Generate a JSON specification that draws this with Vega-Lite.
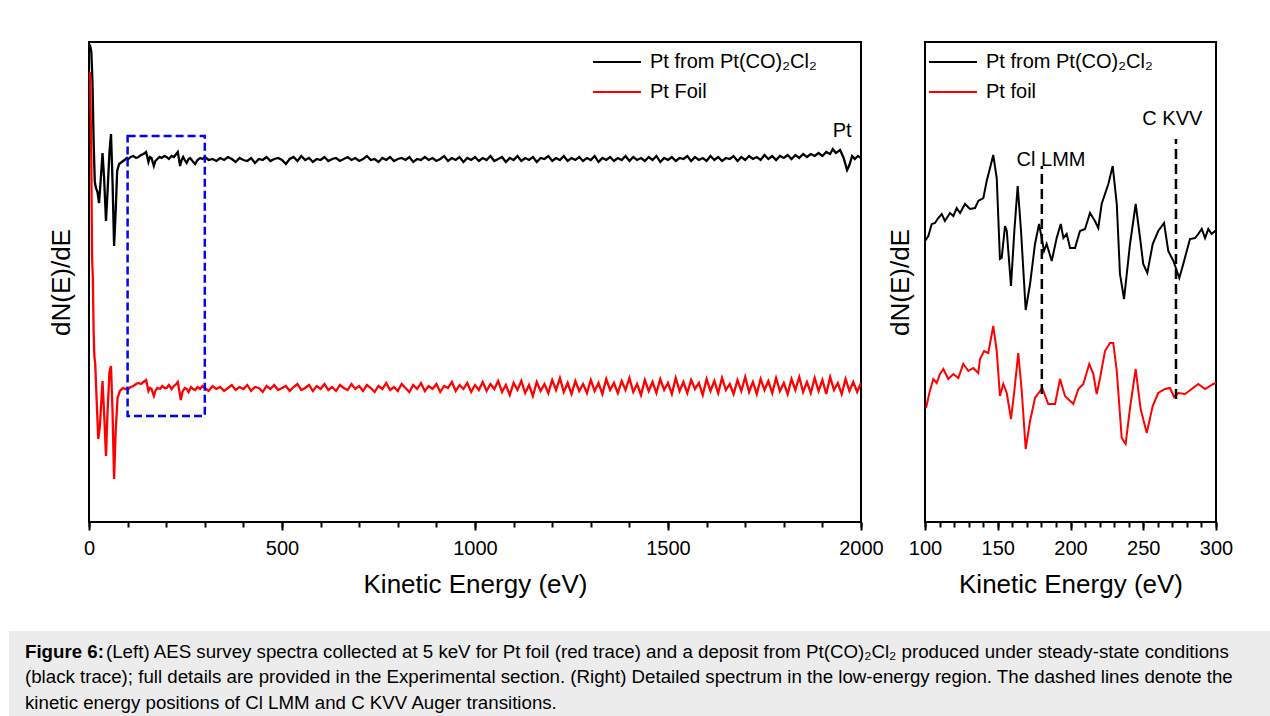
{
  "$schema": "https://vega.github.io/schema/vega-lite/v6.json",
  "padding": {"left": 9, "top": 41, "right": 0, "bottom": 0},
  "background": "white",
  "config": {
    "font": "Liberation Sans",
    "view": {"stroke": "black", "strokeWidth": 2},
    "axis": {"labelFontSize": 20, "titleFontSize": 26, "titleFontWeight": "normal", "labelColor": "black", "titleColor": "black", "tickColor": "black", "tickWidth": 2, "grid": false, "domain": false, "labelFlush": false, "format": "d"},
    "legend": {"orient": "none", "title": null, "symbolType": "M-1,0H3.8", "symbolSize": 400, "symbolStrokeWidth": 2, "labelFontSize": 20, "labelColor": "black", "labelOffset": 36, "rowPadding": 9, "labelLimit": 400, "padding": 0},
    "text": {"fontSize": 20, "color": "black"}
  },
  "spacing": 33,
  "vconcat": [
    {
      "hconcat": [
        {
          "width": 16,
          "height": 480,
          "view": {"stroke": null},
          "data": {"values": []},
          "mark": "point"
        },
        {
          "width": 772,
          "height": 480,
          "resolve": {"axis": {"x": "independent"}},
          "layer": [
            {
              "data": {"values": [
                {"s":"dep","eV":0,"y":478},{"s":"dep","eV":3,"y":476},{"s":"dep","eV":6,"y":470},{"s":"dep","eV":9,"y":440},{"s":"dep","eV":12,"y":380},{"s":"dep","eV":15,"y":340},{"s":"dep","eV":18,"y":334},{"s":"dep","eV":22,"y":330},{"s":"dep","eV":26,"y":319},{"s":"dep","eV":30,"y":340},{"s":"dep","eV":35,"y":369},{"s":"dep","eV":39,"y":345},{"s":"dep","eV":44,"y":301},{"s":"dep","eV":48,"y":330},{"s":"dep","eV":53,"y":370},{"s":"dep","eV":57,"y":388},{"s":"dep","eV":61,"y":340},{"s":"dep","eV":65,"y":276},{"s":"dep","eV":69,"y":310},{"s":"dep","eV":73,"y":351},{"s":"dep","eV":78,"y":358},{"s":"dep","eV":85,"y":360},{"s":"dep","eV":92,"y":362},{"s":"dep","eV":98,"y":364},{"s":"dep","eV":102,"y":363},{"s":"dep","eV":108,"y":365},{"s":"dep","eV":115,"y":366},{"s":"dep","eV":122,"y":364},{"s":"dep","eV":128,"y":365},{"s":"dep","eV":135,"y":367},{"s":"dep","eV":141,"y":368},{"s":"dep","eV":148,"y":370},{"s":"dep","eV":154,"y":360},{"s":"dep","eV":158,"y":365},{"s":"dep","eV":162,"y":364},{"s":"dep","eV":168,"y":356},{"s":"dep","eV":172,"y":361},{"s":"dep","eV":177,"y":363},{"s":"dep","eV":183,"y":365},{"s":"dep","eV":188,"y":364},{"s":"dep","eV":195,"y":366},{"s":"dep","eV":201,"y":365},{"s":"dep","eV":207,"y":363},{"s":"dep","eV":214,"y":366},{"s":"dep","eV":220,"y":365},{"s":"dep","eV":226,"y":368},{"s":"dep","eV":230,"y":370},{"s":"dep","eV":236,"y":356},{"s":"dep","eV":240,"y":362},{"s":"dep","eV":244,"y":365},{"s":"dep","eV":248,"y":362},{"s":"dep","eV":253,"y":359},{"s":"dep","eV":258,"y":363},{"s":"dep","eV":262,"y":364},{"s":"dep","eV":268,"y":361},{"s":"dep","eV":275,"y":358},{"s":"dep","eV":281,"y":362},{"s":"dep","eV":288,"y":364},{"s":"dep","eV":294,"y":363},{"s":"dep","eV":300,"y":365},
                {"s":"dep","eV":310,"y":362},{"s":"dep","eV":320,"y":363},{"s":"dep","eV":330,"y":361},{"s":"dep","eV":340,"y":364},{"s":"dep","eV":350,"y":362},{"s":"dep","eV":360,"y":365},{"s":"dep","eV":370,"y":363},{"s":"dep","eV":380,"y":360},{"s":"dep","eV":390,"y":364},{"s":"dep","eV":400,"y":362},{"s":"dep","eV":410,"y":361},{"s":"dep","eV":420,"y":364},{"s":"dep","eV":430,"y":359},{"s":"dep","eV":440,"y":363},{"s":"dep","eV":450,"y":362},{"s":"dep","eV":460,"y":365},{"s":"dep","eV":470,"y":361},{"s":"dep","eV":480,"y":363},{"s":"dep","eV":490,"y":364},{"s":"dep","eV":500,"y":362},{"s":"dep","eV":510,"y":358},{"s":"dep","eV":520,"y":363},{"s":"dep","eV":530,"y":365},{"s":"dep","eV":540,"y":361},{"s":"dep","eV":550,"y":366},{"s":"dep","eV":560,"y":362},{"s":"dep","eV":570,"y":364},{"s":"dep","eV":580,"y":360},{"s":"dep","eV":590,"y":363},{"s":"dep","eV":600,"y":362},{"s":"dep","eV":610,"y":365},{"s":"dep","eV":620,"y":361},{"s":"dep","eV":630,"y":363},{"s":"dep","eV":640,"y":364},{"s":"dep","eV":650,"y":361},{"s":"dep","eV":660,"y":363},{"s":"dep","eV":670,"y":365},{"s":"dep","eV":680,"y":362},{"s":"dep","eV":690,"y":364},{"s":"dep","eV":700,"y":361},{"s":"dep","eV":710,"y":363},{"s":"dep","eV":720,"y":366},{"s":"dep","eV":730,"y":362},{"s":"dep","eV":740,"y":363},{"s":"dep","eV":750,"y":360},{"s":"dep","eV":760,"y":364},{"s":"dep","eV":770,"y":362},{"s":"dep","eV":780,"y":365},{"s":"dep","eV":790,"y":361},{"s":"dep","eV":800,"y":363},{"s":"dep","eV":810,"y":364},{"s":"dep","eV":820,"y":362},{"s":"dep","eV":830,"y":365},{"s":"dep","eV":840,"y":360},{"s":"dep","eV":850,"y":363},{"s":"dep","eV":860,"y":362},{"s":"dep","eV":870,"y":365},{"s":"dep","eV":880,"y":362},{"s":"dep","eV":890,"y":364},{"s":"dep","eV":900,"y":361},{"s":"dep","eV":910,"y":363},{"s":"dep","eV":920,"y":366},{"s":"dep","eV":930,"y":361},{"s":"dep","eV":940,"y":364},{"s":"dep","eV":950,"y":362},{"s":"dep","eV":960,"y":365},{"s":"dep","eV":970,"y":360},{"s":"dep","eV":980,"y":364},{"s":"dep","eV":990,"y":362},{"s":"dep","eV":1000,"y":365},{"s":"dep","eV":1010,"y":361},{"s":"dep","eV":1020,"y":364},{"s":"dep","eV":1030,"y":362},{"s":"dep","eV":1040,"y":366},{"s":"dep","eV":1050,"y":361},{"s":"dep","eV":1060,"y":363},{"s":"dep","eV":1070,"y":365},{"s":"dep","eV":1080,"y":360},{"s":"dep","eV":1090,"y":364},{"s":"dep","eV":1100,"y":362},{"s":"dep","eV":1110,"y":366},{"s":"dep","eV":1120,"y":361},{"s":"dep","eV":1130,"y":364},{"s":"dep","eV":1140,"y":362},{"s":"dep","eV":1150,"y":365},{"s":"dep","eV":1160,"y":360},{"s":"dep","eV":1170,"y":364},{"s":"dep","eV":1180,"y":363},{"s":"dep","eV":1190,"y":366},{"s":"dep","eV":1200,"y":361},{"s":"dep","eV":1210,"y":364},{"s":"dep","eV":1220,"y":362},{"s":"dep","eV":1230,"y":366},{"s":"dep","eV":1240,"y":361},{"s":"dep","eV":1250,"y":364},{"s":"dep","eV":1260,"y":362},{"s":"dep","eV":1270,"y":365},{"s":"dep","eV":1280,"y":361},{"s":"dep","eV":1290,"y":364},{"s":"dep","eV":1300,"y":362},{"s":"dep","eV":1310,"y":366},{"s":"dep","eV":1320,"y":360},{"s":"dep","eV":1330,"y":364},{"s":"dep","eV":1340,"y":362},{"s":"dep","eV":1350,"y":365},{"s":"dep","eV":1360,"y":361},{"s":"dep","eV":1370,"y":364},{"s":"dep","eV":1380,"y":362},{"s":"dep","eV":1390,"y":366},{"s":"dep","eV":1400,"y":361},{"s":"dep","eV":1410,"y":365},{"s":"dep","eV":1420,"y":362},{"s":"dep","eV":1430,"y":364},{"s":"dep","eV":1440,"y":361},{"s":"dep","eV":1450,"y":365},{"s":"dep","eV":1460,"y":362},{"s":"dep","eV":1470,"y":366},{"s":"dep","eV":1480,"y":360},{"s":"dep","eV":1490,"y":364},{"s":"dep","eV":1500,"y":362},{"s":"dep","eV":1510,"y":365},{"s":"dep","eV":1520,"y":361},{"s":"dep","eV":1530,"y":364},{"s":"dep","eV":1540,"y":363},{"s":"dep","eV":1550,"y":366},{"s":"dep","eV":1560,"y":361},{"s":"dep","eV":1570,"y":365},{"s":"dep","eV":1580,"y":362},{"s":"dep","eV":1590,"y":364},{"s":"dep","eV":1600,"y":361},{"s":"dep","eV":1610,"y":366},{"s":"dep","eV":1620,"y":362},{"s":"dep","eV":1630,"y":365},{"s":"dep","eV":1640,"y":361},{"s":"dep","eV":1650,"y":364},{"s":"dep","eV":1660,"y":363},{"s":"dep","eV":1670,"y":366},{"s":"dep","eV":1680,"y":361},{"s":"dep","eV":1690,"y":365},{"s":"dep","eV":1700,"y":362},{"s":"dep","eV":1710,"y":366},{"s":"dep","eV":1720,"y":363},{"s":"dep","eV":1730,"y":365},{"s":"dep","eV":1740,"y":362},{"s":"dep","eV":1750,"y":367},{"s":"dep","eV":1760,"y":363},{"s":"dep","eV":1770,"y":366},{"s":"dep","eV":1780,"y":362},{"s":"dep","eV":1790,"y":366},{"s":"dep","eV":1800,"y":364},{"s":"dep","eV":1810,"y":367},{"s":"dep","eV":1820,"y":363},{"s":"dep","eV":1830,"y":367},{"s":"dep","eV":1840,"y":364},{"s":"dep","eV":1850,"y":368},{"s":"dep","eV":1860,"y":365},{"s":"dep","eV":1870,"y":368},{"s":"dep","eV":1880,"y":366},{"s":"dep","eV":1890,"y":369},{"s":"dep","eV":1900,"y":366},{"s":"dep","eV":1910,"y":370},{"s":"dep","eV":1920,"y":368},{"s":"dep","eV":1927,"y":373},{"s":"dep","eV":1935,"y":369},{"s":"dep","eV":1946,"y":372},{"s":"dep","eV":1955,"y":364},{"s":"dep","eV":1964,"y":352},{"s":"dep","eV":1970,"y":357},{"s":"dep","eV":1977,"y":366},{"s":"dep","eV":1984,"y":363},{"s":"dep","eV":1992,"y":366},{"s":"dep","eV":2000,"y":364},
                {"s":"foil","eV":3,"y":450},{"s":"foil","eV":6,"y":360},{"s":"foil","eV":8,"y":264},{"s":"foil","eV":10,"y":244},{"s":"foil","eV":12,"y":190},{"s":"foil","eV":14,"y":165},{"s":"foil","eV":16,"y":159},{"s":"foil","eV":20,"y":120},{"s":"foil","eV":24,"y":83},{"s":"foil","eV":28,"y":95},{"s":"foil","eV":35,"y":141},{"s":"foil","eV":39,"y":110},{"s":"foil","eV":44,"y":66},{"s":"foil","eV":48,"y":110},{"s":"foil","eV":53,"y":150},{"s":"foil","eV":57,"y":156},{"s":"foil","eV":61,"y":110},{"s":"foil","eV":65,"y":43},{"s":"foil","eV":69,"y":90},{"s":"foil","eV":74,"y":124},{"s":"foil","eV":80,"y":131},{"s":"foil","eV":88,"y":134},{"s":"foil","eV":95,"y":133},{"s":"foil","eV":102,"y":133},{"s":"foil","eV":108,"y":135},{"s":"foil","eV":115,"y":136},{"s":"foil","eV":122,"y":138},{"s":"foil","eV":128,"y":139},{"s":"foil","eV":135,"y":138},{"s":"foil","eV":141,"y":140},{"s":"foil","eV":148,"y":142},{"s":"foil","eV":154,"y":131},{"s":"foil","eV":158,"y":134},{"s":"foil","eV":162,"y":133},{"s":"foil","eV":168,"y":126},{"s":"foil","eV":172,"y":131},{"s":"foil","eV":177,"y":134},{"s":"foil","eV":184,"y":133},{"s":"foil","eV":190,"y":136},{"s":"foil","eV":196,"y":134},{"s":"foil","eV":201,"y":134},{"s":"foil","eV":207,"y":137},{"s":"foil","eV":214,"y":133},{"s":"foil","eV":220,"y":136},{"s":"foil","eV":226,"y":138},{"s":"foil","eV":230,"y":140},{"s":"foil","eV":238,"y":122},{"s":"foil","eV":242,"y":130},{"s":"foil","eV":248,"y":134},{"s":"foil","eV":253,"y":133},{"s":"foil","eV":258,"y":130},{"s":"foil","eV":264,"y":135},{"s":"foil","eV":270,"y":133},{"s":"foil","eV":275,"y":132},{"s":"foil","eV":281,"y":135},{"s":"foil","eV":288,"y":133},{"s":"foil","eV":294,"y":136},{"s":"foil","eV":300,"y":134},
                {"s":"foil","eV":310,"y":131},{"s":"foil","eV":320,"y":136},{"s":"foil","eV":330,"y":133},{"s":"foil","eV":340,"y":135},{"s":"foil","eV":350,"y":131},{"s":"foil","eV":360,"y":134},{"s":"foil","eV":370,"y":137},{"s":"foil","eV":380,"y":132},{"s":"foil","eV":390,"y":135},{"s":"foil","eV":400,"y":133},{"s":"foil","eV":410,"y":137},{"s":"foil","eV":420,"y":131},{"s":"foil","eV":430,"y":135},{"s":"foil","eV":440,"y":134},{"s":"foil","eV":450,"y":130},{"s":"foil","eV":460,"y":136},{"s":"foil","eV":470,"y":133},{"s":"foil","eV":480,"y":137},{"s":"foil","eV":490,"y":132},{"s":"foil","eV":500,"y":134},{"s":"foil","eV":510,"y":136},{"s":"foil","eV":520,"y":131},{"s":"foil","eV":530,"y":135},{"s":"foil","eV":540,"y":138},{"s":"foil","eV":550,"y":132},{"s":"foil","eV":560,"y":134},{"s":"foil","eV":570,"y":137},{"s":"foil","eV":580,"y":131},{"s":"foil","eV":590,"y":136},{"s":"foil","eV":600,"y":133},{"s":"foil","eV":610,"y":138},{"s":"foil","eV":620,"y":132},{"s":"foil","eV":630,"y":135},{"s":"foil","eV":640,"y":131},{"s":"foil","eV":650,"y":137},{"s":"foil","eV":660,"y":134},{"s":"foil","eV":670,"y":132},{"s":"foil","eV":680,"y":138},{"s":"foil","eV":690,"y":133},{"s":"foil","eV":700,"y":136},{"s":"foil","eV":710,"y":131},{"s":"foil","eV":720,"y":137},{"s":"foil","eV":730,"y":134},{"s":"foil","eV":740,"y":130},{"s":"foil","eV":750,"y":136},{"s":"foil","eV":760,"y":133},{"s":"foil","eV":770,"y":139},{"s":"foil","eV":780,"y":132},{"s":"foil","eV":790,"y":135},{"s":"foil","eV":800,"y":131},{"s":"foil","eV":810,"y":138},{"s":"foil","eV":820,"y":134},{"s":"foil","eV":830,"y":130},{"s":"foil","eV":840,"y":137},{"s":"foil","eV":850,"y":133},{"s":"foil","eV":860,"y":139},{"s":"foil","eV":870,"y":131},{"s":"foil","eV":880,"y":136},{"s":"foil","eV":890,"y":133},{"s":"foil","eV":900,"y":138},{"s":"foil","eV":910,"y":130},{"s":"foil","eV":920,"y":136},{"s":"foil","eV":930,"y":134},{"s":"foil","eV":940,"y":140},{"s":"foil","eV":950,"y":131},{"s":"foil","eV":960,"y":137},{"s":"foil","eV":970,"y":133},{"s":"foil","eV":980,"y":139},{"s":"foil","eV":990,"y":130},{"s":"foil","eV":1000,"y":137},{"s":"foil","eV":1010,"y":132},{"s":"foil","eV":1020,"y":140},{"s":"foil","eV":1030,"y":131},{"s":"foil","eV":1040,"y":138},{"s":"foil","eV":1050,"y":133},{"s":"foil","eV":1060,"y":141},{"s":"foil","eV":1070,"y":130},{"s":"foil","eV":1080,"y":137},{"s":"foil","eV":1090,"y":127},{"s":"foil","eV":1100,"y":139},{"s":"foil","eV":1110,"y":132},{"s":"foil","eV":1120,"y":141},{"s":"foil","eV":1130,"y":129},{"s":"foil","eV":1140,"y":137},{"s":"foil","eV":1150,"y":126},{"s":"foil","eV":1160,"y":140},{"s":"foil","eV":1170,"y":131},{"s":"foil","eV":1180,"y":138},{"s":"foil","eV":1190,"y":129},{"s":"foil","eV":1200,"y":142},{"s":"foil","eV":1210,"y":132},{"s":"foil","eV":1220,"y":144},{"s":"foil","eV":1230,"y":130},{"s":"foil","eV":1240,"y":139},{"s":"foil","eV":1250,"y":128},{"s":"foil","eV":1260,"y":141},{"s":"foil","eV":1270,"y":131},{"s":"foil","eV":1280,"y":138},{"s":"foil","eV":1290,"y":129},{"s":"foil","eV":1300,"y":142},{"s":"foil","eV":1310,"y":131},{"s":"foil","eV":1320,"y":139},{"s":"foil","eV":1330,"y":128},{"s":"foil","eV":1340,"y":143},{"s":"foil","eV":1350,"y":132},{"s":"foil","eV":1360,"y":139},{"s":"foil","eV":1370,"y":129},{"s":"foil","eV":1380,"y":141},{"s":"foil","eV":1390,"y":132},{"s":"foil","eV":1400,"y":144},{"s":"foil","eV":1410,"y":130},{"s":"foil","eV":1420,"y":138},{"s":"foil","eV":1430,"y":127},{"s":"foil","eV":1440,"y":142},{"s":"foil","eV":1450,"y":131},{"s":"foil","eV":1460,"y":140},{"s":"foil","eV":1470,"y":129},{"s":"foil","eV":1480,"y":143},{"s":"foil","eV":1490,"y":132},{"s":"foil","eV":1500,"y":139},{"s":"foil","eV":1510,"y":128},{"s":"foil","eV":1520,"y":144},{"s":"foil","eV":1530,"y":131},{"s":"foil","eV":1540,"y":140},{"s":"foil","eV":1550,"y":129},{"s":"foil","eV":1560,"y":142},{"s":"foil","eV":1570,"y":133},{"s":"foil","eV":1580,"y":139},{"s":"foil","eV":1590,"y":127},{"s":"foil","eV":1600,"y":143},{"s":"foil","eV":1610,"y":131},{"s":"foil","eV":1620,"y":141},{"s":"foil","eV":1630,"y":129},{"s":"foil","eV":1640,"y":144},{"s":"foil","eV":1650,"y":132},{"s":"foil","eV":1660,"y":138},{"s":"foil","eV":1670,"y":128},{"s":"foil","eV":1680,"y":142},{"s":"foil","eV":1690,"y":131},{"s":"foil","eV":1700,"y":145},{"s":"foil","eV":1710,"y":130},{"s":"foil","eV":1720,"y":140},{"s":"foil","eV":1730,"y":128},{"s":"foil","eV":1740,"y":143},{"s":"foil","eV":1750,"y":132},{"s":"foil","eV":1760,"y":141},{"s":"foil","eV":1770,"y":129},{"s":"foil","eV":1780,"y":144},{"s":"foil","eV":1790,"y":131},{"s":"foil","eV":1800,"y":139},{"s":"foil","eV":1810,"y":128},{"s":"foil","eV":1820,"y":143},{"s":"foil","eV":1830,"y":132},{"s":"foil","eV":1840,"y":145},{"s":"foil","eV":1850,"y":130},{"s":"foil","eV":1860,"y":140},{"s":"foil","eV":1870,"y":129},{"s":"foil","eV":1880,"y":144},{"s":"foil","eV":1890,"y":131},{"s":"foil","eV":1900,"y":142},{"s":"foil","eV":1910,"y":128},{"s":"foil","eV":1920,"y":145},{"s":"foil","eV":1930,"y":132},{"s":"foil","eV":1940,"y":139},{"s":"foil","eV":1950,"y":128},{"s":"foil","eV":1960,"y":143},{"s":"foil","eV":1970,"y":131},{"s":"foil","eV":1980,"y":140},{"s":"foil","eV":1990,"y":130},{"s":"foil","eV":2000,"y":139}
              ]},
              "mark": {"type": "line", "strokeWidth": 2.3, "clip": true},
              "encoding": {
                "x": {"field": "eV", "type": "quantitative", "scale": {"domain": [0, 2000], "nice": false, "zero": false},
                      "axis": {"orient": "bottom", "values": [0, 500, 1000, 1500, 2000], "tickSize": 8, "labelPadding": 8, "title": "Kinetic Energy (eV)", "titlePadding": 13}},
                "y": {"field": "y", "type": "quantitative", "scale": {"domain": [0, 480], "nice": false, "zero": false},
                      "axis": {"title": "dN(E)/dE", "labels": false, "ticks": false, "titleX": -15, "titleY": 240}},
                "color": {"field": "s", "type": "nominal", "scale": {"domain": ["dep", "foil"], "range": ["#000000", "#ff0000"]},
                          "legend": {"legendX": 503, "legendY": 9, "labelExpr": "datum.label == 'dep' ? 'Pt from Pt(CO)₂Cl₂' : 'Pt Foil'"}}
              }
            },
            {
              "data": {"values": [{"x1": 100, "x2": 300, "y1": 106, "y2": 386}]},
              "mark": {"type": "rect", "fill": null, "fillOpacity": 0, "stroke": "#0000ff", "strokeWidth": 2.5, "strokeDash": [8, 4]},
              "encoding": {
                "x": {"field": "x1", "type": "quantitative", "scale": {"domain": [0, 2000], "nice": false, "zero": false},
                      "axis": {"orient": "bottom", "values": [0,100,200,300,400,500,600,700,800,900,1000,1100,1200,1300,1400,1500,1600,1700,1800,1900,2000], "tickSize": 5, "labels": false, "title": null}},
                "x2": {"field": "x2"},
                "y": {"field": "y1", "type": "quantitative"},
                "y2": {"field": "y2"}
              }
            },
            {
              "data": {"values": [{"eV": 1951, "y": 391, "label": "Pt"}]},
              "mark": {"type": "text", "fontSize": 20, "align": "center", "baseline": "middle"},
              "encoding": {
                "x": {"field": "eV", "type": "quantitative", "axis": null},
                "y": {"field": "y", "type": "quantitative"},
                "text": {"field": "label"}
              }
            }
          ]
        },
        {
          "width": 291,
          "height": 480,
          "resolve": {"axis": {"x": "independent"}},
          "layer": [
            {
              "data": {"values": [
                {"s":"dep","eV":100,"y":281},{"s":"dep","eV":102.3,"y":286},{"s":"dep","eV":104.6,"y":298},{"s":"dep","eV":106.9,"y":299},{"s":"dep","eV":109.1,"y":304},{"s":"dep","eV":111.5,"y":308},{"s":"dep","eV":113.7,"y":301},{"s":"dep","eV":117.2,"y":309},{"s":"dep","eV":119.5,"y":306},{"s":"dep","eV":121.8,"y":314},{"s":"dep","eV":124.1,"y":309},{"s":"dep","eV":127.5,"y":318},{"s":"dep","eV":130.9,"y":313},{"s":"dep","eV":134.4,"y":314},{"s":"dep","eV":136.6,"y":321},{"s":"dep","eV":140.1,"y":324},{"s":"dep","eV":142.4,"y":341},{"s":"dep","eV":144.7,"y":354},{"s":"dep","eV":146.9,"y":367},{"s":"dep","eV":149.3,"y":344},{"s":"dep","eV":151.5,"y":263},{"s":"dep","eV":152.7,"y":264},{"s":"dep","eV":155.0,"y":296},{"s":"dep","eV":156.2,"y":291},{"s":"dep","eV":159.1,"y":236},{"s":"dep","eV":161.4,"y":291},{"s":"dep","eV":163.7,"y":336},{"s":"dep","eV":166.0,"y":291},{"s":"dep","eV":169.2,"y":212},{"s":"dep","eV":172.2,"y":238},{"s":"dep","eV":175.6,"y":278},{"s":"dep","eV":178.4,"y":298},{"s":"dep","eV":180.2,"y":284},{"s":"dep","eV":181.8,"y":271},{"s":"dep","eV":183.6,"y":278},{"s":"dep","eV":187.1,"y":261},{"s":"dep","eV":190.5,"y":284},{"s":"dep","eV":193.3,"y":298},{"s":"dep","eV":195.1,"y":284},{"s":"dep","eV":197.4,"y":288},{"s":"dep","eV":199.7,"y":274},{"s":"dep","eV":203.1,"y":274},{"s":"dep","eV":206.5,"y":291},{"s":"dep","eV":210.0,"y":293},{"s":"dep","eV":213.4,"y":309},{"s":"dep","eV":216.8,"y":301},{"s":"dep","eV":219.1,"y":294},{"s":"dep","eV":221.4,"y":318},{"s":"dep","eV":226.0,"y":338},{"s":"dep","eV":229.0,"y":356},{"s":"dep","eV":231.8,"y":318},{"s":"dep","eV":234.0,"y":248},{"s":"dep","eV":236.8,"y":223},{"s":"dep","eV":240.9,"y":278},{"s":"dep","eV":244.8,"y":318},{"s":"dep","eV":247.8,"y":284},{"s":"dep","eV":250.0,"y":258},{"s":"dep","eV":252.8,"y":249},{"s":"dep","eV":256.5,"y":278},{"s":"dep","eV":260.3,"y":291},{"s":"dep","eV":264.3,"y":299},{"s":"dep","eV":267.2,"y":271},{"s":"dep","eV":270.7,"y":261},{"s":"dep","eV":274.8,"y":244},{"s":"dep","eV":277.5,"y":258},{"s":"dep","eV":282.1,"y":283},{"s":"dep","eV":285.6,"y":284},{"s":"dep","eV":287.8,"y":288},{"s":"dep","eV":290.2,"y":293},{"s":"dep","eV":292.5,"y":284},{"s":"dep","eV":294.7,"y":293},{"s":"dep","eV":297.0,"y":288},{"s":"dep","eV":299.3,"y":291},{"s":"dep","eV":300,"y":290},
                {"s":"foil","eV":100.7,"y":114},{"s":"foil","eV":103.0,"y":129},{"s":"foil","eV":105.7,"y":143},{"s":"foil","eV":108.0,"y":139},{"s":"foil","eV":110.3,"y":148},{"s":"foil","eV":112.6,"y":153},{"s":"foil","eV":116.0,"y":143},{"s":"foil","eV":119.5,"y":148},{"s":"foil","eV":122.9,"y":144},{"s":"foil","eV":126.3,"y":158},{"s":"foil","eV":129.8,"y":151},{"s":"foil","eV":133.2,"y":154},{"s":"foil","eV":136.6,"y":149},{"s":"foil","eV":137.8,"y":163},{"s":"foil","eV":140.6,"y":171},{"s":"foil","eV":143.5,"y":169},{"s":"foil","eV":146.9,"y":196},{"s":"foil","eV":149.3,"y":171},{"s":"foil","eV":151.5,"y":126},{"s":"foil","eV":153.8,"y":138},{"s":"foil","eV":156.2,"y":129},{"s":"foil","eV":159.1,"y":103},{"s":"foil","eV":161.4,"y":131},{"s":"foil","eV":164.1,"y":169},{"s":"foil","eV":166.5,"y":131},{"s":"foil","eV":169.2,"y":73},{"s":"foil","eV":172.2,"y":101},{"s":"foil","eV":175.6,"y":124},{"s":"foil","eV":180.6,"y":134},{"s":"foil","eV":184.7,"y":118},{"s":"foil","eV":189.4,"y":118},{"s":"foil","eV":192.8,"y":143},{"s":"foil","eV":196.2,"y":126},{"s":"foil","eV":201.9,"y":118},{"s":"foil","eV":205.4,"y":133},{"s":"foil","eV":208.8,"y":138},{"s":"foil","eV":212.9,"y":158},{"s":"foil","eV":215.7,"y":148},{"s":"foil","eV":218.0,"y":128},{"s":"foil","eV":220.3,"y":144},{"s":"foil","eV":223.7,"y":171},{"s":"foil","eV":227.1,"y":179},{"s":"foil","eV":229.4,"y":179},{"s":"foil","eV":231.8,"y":151},{"s":"foil","eV":235.2,"y":84},{"s":"foil","eV":237.9,"y":78},{"s":"foil","eV":240.9,"y":114},{"s":"foil","eV":244.8,"y":153},{"s":"foil","eV":248.2,"y":113},{"s":"foil","eV":252.4,"y":89},{"s":"foil","eV":256.5,"y":116},{"s":"foil","eV":260.3,"y":129},{"s":"foil","eV":265.0,"y":133},{"s":"foil","eV":268.4,"y":134},{"s":"foil","eV":271.2,"y":125},{"s":"foil","eV":274.1,"y":129},{"s":"foil","eV":278.7,"y":128},{"s":"foil","eV":283.3,"y":133},{"s":"foil","eV":287.8,"y":138},{"s":"foil","eV":292.5,"y":133},{"s":"foil","eV":298.2,"y":138},{"s":"foil","eV":300,"y":139}
              ]},
              "mark": {"type": "line", "strokeWidth": 2, "clip": true},
              "encoding": {
                "x": {"field": "eV", "type": "quantitative", "scale": {"domain": [100, 300], "nice": false, "zero": false},
                      "axis": {"orient": "bottom", "values": [100, 150, 200, 250, 300], "tickSize": 8, "labelPadding": 8, "title": "Kinetic Energy (eV)", "titlePadding": 13}},
                "y": {"field": "y", "type": "quantitative", "scale": {"domain": [0, 480], "nice": false, "zero": false},
                      "axis": {"title": "dN(E)/dE", "labels": false, "ticks": false, "titleX": -12, "titleY": 240}},
                "color": {"field": "s", "type": "nominal", "scale": {"domain": ["dep", "foil"], "range": ["#000000", "#ff0000"]},
                          "legend": {"legendX": 3, "legendY": 9, "labelExpr": "datum.label == 'dep' ? 'Pt from Pt(CO)₂Cl₂' : 'Pt foil'"}}
              }
            },
            {
              "data": {"values": [{"eV": 180.3, "y1": 128, "y2": 356}, {"eV": 272.5, "y1": 123, "y2": 383}]},
              "mark": {"type": "rule", "color": "black", "strokeWidth": 2.5, "strokeDash": [10, 5]},
              "encoding": {
                "x": {"field": "eV", "type": "quantitative", "scale": {"domain": [100, 300], "nice": false, "zero": false},
                      "axis": {"orient": "bottom", "values": [100,110,120,130,140,150,160,170,180,190,200,210,220,230,240,250,260,270,280,290,300], "tickSize": 5, "labels": false, "title": null}},
                "y": {"field": "y1", "type": "quantitative"},
                "y2": {"field": "y2"}
              }
            },
            {
              "data": {"values": [{"eV": 186.6, "y": 362, "label": "Cl LMM"}, {"eV": 270, "y": 403, "label": "C KVV"}]},
              "mark": {"type": "text", "fontSize": 20, "align": "center", "baseline": "middle"},
              "encoding": {
                "x": {"field": "eV", "type": "quantitative", "axis": null},
                "y": {"field": "y", "type": "quantitative"},
                "text": {"field": "label"}
              }
            }
          ]
        }
      ],
      "spacing": 64,
      "bounds": "flush",
      "resolve": {"scale": {"color": "independent"}}
    },
    {
      "width": 1261,
      "height": 86,
      "view": {"fill": "#ececec", "stroke": null},
      "data": {"values": [
        {"line": 1, "start": "margin", "role": "label", "text": "Figure 6:"},
        {"line": 1, "start": "after", "role": "body", "text": "(Left) AES survey spectra collected at 5 keV for Pt foil (red trace) and a deposit from Pt(CO)₂Cl₂ produced under steady-state conditions"},
        {"line": 2, "start": "margin", "role": "body", "text": "(black trace); full details are provided in the Experimental section. (Right) Detailed spectrum in the low-energy region. The dashed lines denote the"},
        {"line": 3, "start": "margin", "role": "body", "text": "kinetic energy positions of Cl LMM and C KVV Auger transitions."}
      ]},
      "encoding": {
        "x": {"field": "start", "type": "nominal", "scale": {"type": "point", "domain": ["margin", "after"], "range": [16, 97], "padding": 0}, "axis": null},
        "y": {"field": "line", "type": "quantitative", "scale": {"domain": [0.18, 3.55], "reverse": true, "nice": false, "zero": false}, "axis": null},
        "text": {"field": "text"}
      },
      "layer": [
        {"transform": [{"filter": "datum.role == 'label'"}], "mark": {"type": "text", "align": "left", "baseline": "middle", "fontSize": 18.7, "fontWeight": "bold", "color": "black"}},
        {"transform": [{"filter": "datum.role == 'body'"}], "mark": {"type": "text", "align": "left", "baseline": "middle", "fontSize": 18.7, "color": "black"}}
      ]
    }
  ]
}
